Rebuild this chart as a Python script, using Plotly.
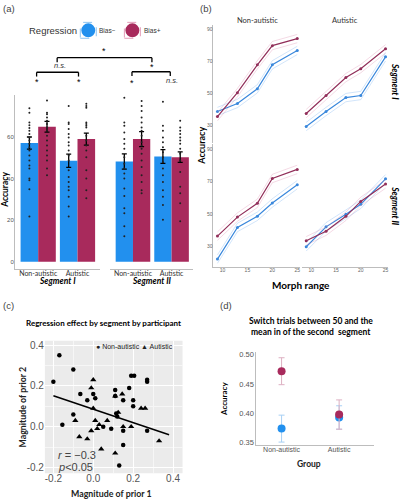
import plotly.graph_objects as go

W, H = 402, 500
def px(x): return x / W
def py(y): return 1 - y / H
def dom_x(a, b): return [px(a), px(b)]
def dom_y(top, bottom): return [py(bottom), py(top)]

BLUE = "#2290EE"
RED = "#A82A5C"
LBLUE = "#3A88DC"
LRED = "#922F5A"
AX = "#BDBDBD"
TXT = "#444444"
CAL = "Lato, Open Sans, sans-serif"
ARI = "Liberation Sans, Arial, sans-serif"

# ---------------- (a) bar data ----------------
groups = ["Non-autistic", "Autistic"]
seg1_bias_minus = [57.1, 48.6]
seg1_bias_plus = [64.9, 59.0]
seg2_bias_minus = [48.2, 50.6]
seg2_bias_plus = [59.0, 50.3]
seg1_err_minus = [2.9, 3.2]
seg1_err_plus = [2.6, 2.9]
seg2_err_minus = [3.7, 3.3]
seg2_err_plus = [3.6, 2.5]

dots_s1_na_minus = [73.8, 71.7, 67.0, 65.7, 64.3, 63.0, 61.4, 59.8, 58.3, 56.7, 55.1, 53.5, 51.1, 48.7, 46.3, 44.8, 40.0, 39.2, 34.9, 21.7]
dots_s1_na_plus = [77.6, 71.7, 71.0, 69.4, 67.8, 66.2, 64.6, 63.0, 60.6, 58.3, 55.9, 53.5, 51.1, 48.7, 44.8, 41.6]
dots_s1_au_minus = [74.9, 67.0, 66.2, 63.8, 61.4, 59.8, 57.5, 55.9, 53.5, 51.1, 48.7, 44.0, 40.8, 38.4, 36.0, 34.4, 31.3, 26.5, 21.7]
dots_s1_au_plus = [76.0, 74.9, 74.1, 67.0, 66.2, 65.4, 64.6, 60.6, 58.3, 55.9, 53.5, 50.3, 44.0, 40.0, 34.4, 30.5]
dots_s2_na_minus = [78.9, 67.0, 65.4, 62.2, 59.0, 56.7, 54.3, 50.3, 47.1, 44.8, 42.4, 40.0, 35.2, 31.6, 25.7, 23.3, 17.0, 12.2]
dots_s2_na_plus = [77.3, 74.9, 72.5, 69.4, 67.0, 64.6, 63.0, 60.6, 57.5, 55.9, 54.3, 51.9, 48.7, 45.6, 41.6, 38.4, 34.4, 32.9]
dots_s2_au_minus = [77.0, 65.4, 63.0, 59.8, 57.5, 55.1, 52.7, 50.3, 47.9, 44.8, 41.6, 38.4, 34.4, 31.3, 27.3, 20.2]
dots_s2_au_plus = [67.8, 64.6, 63.0, 61.4, 59.8, 58.3, 56.7, 54.3, 51.9, 48.7, 43.2, 36.0, 32.9, 28.1, 19.4]

# ---------------- (b) line data ----------------
morph = [9, 13, 17, 20, 25]
b_s1_na_minus = [38.8, 43.8, 53.0, 68.0, 77.0]
b_s1_na_plus = [35.6, 50.6, 68.0, 80.0, 84.4]
b_s1_au_minus = [29.4, 38.8, 47.5, 48.8, 73.0]
b_s1_au_plus = [37.5, 48.8, 60.0, 65.6, 78.0]
b_s2_na_minus = [22.1, 41.6, 48.5, 56.7, 68.0]
b_s2_na_plus = [36.3, 48.0, 56.5, 71.8, 77.4]
b_s2_au_minus = [29.7, 42.0, 49.8, 55.9, 71.6]
b_s2_au_plus = [33.4, 39.3, 48.5, 57.7, 68.4]
b_se = [2.6, 2.6, 2.6, 2.6, 2.6]

# ---------------- (c) scatter data ----------------
na_x = [-0.17, -0.20, -0.10, -0.065, -0.03, 0.00, 0.01, -0.10, -0.155, 0.05, 0.09, 0.115, 0.11, 0.11, 0.18, 0.19, 0.205, 0.20, 0.20, 0.15, 0.27, 0.27, 0.27, 0.15, 0.15, 0.13, 0.12]
na_y = [0.35, 0.22, 0.28, 0.16, 0.13, 0.16, 0.14, 0.06, 0.01, 0.00, -0.01, 0.065, 0.18, 0.15, 0.19, 0.25, 0.25, 0.13, 0.10, 0.13, 0.23, 0.22, -0.02, -0.02, -0.09, -0.19, 0.05]
au_x = [0.00, -0.01, 0.00, -0.09, -0.07, -0.03, -0.01, 0.01, 0.02, 0.03, 0.07, 0.04, 0.11, 0.125, 0.145, 0.15, 0.19, 0.24, 0.26, 0.11, 0.33]
au_y = [0.23, 0.19, 0.09, 0.03, -0.05, -0.06, -0.02, 0.03, -0.01, 0.01, 0.03, -0.11, 0.15, 0.07, 0.16, 0.00, 0.00, 0.09, 0.09, -0.13, -0.07]
fit_x = [-0.2, 0.38]
fit_intercept = 0.086
fit_slope = -0.33

# ---------------- (d) point data ----------------
d_groups = ["Non-autistic", "Autistic"]
d_bias_minus = [0.374, 0.393]
d_bias_plus = [0.472, 0.398]
d_err_minus = [0.023, 0.020]
d_err_plus = [0.023, 0.025]

fig = go.Figure()

# ---------- (a) ----------
off, bw = 0.224, 0.448
seg_data = [
    ("x", "y", seg1_bias_minus, seg1_bias_plus, seg1_err_minus, seg1_err_plus,
     [dots_s1_na_minus, dots_s1_au_minus], [dots_s1_na_plus, dots_s1_au_plus]),
    ("x2", "y2", seg2_bias_minus, seg2_bias_plus, seg2_err_minus, seg2_err_plus,
     [dots_s2_na_minus, dots_s2_au_minus], [dots_s2_na_plus, dots_s2_au_plus]),
]
for xa, ya, vm, vp, em, ep, dm, dp in seg_data:
    for vals, errs, dots, sgn, col in [(vm, em, dm, -1, BLUE), (vp, ep, dp, 1, RED)]:
        xs = [i + sgn * off for i in range(len(groups))]
        fig.add_trace(go.Bar(x=xs, y=vals, width=bw, marker=dict(color=col, line=dict(width=0)),
                             error_y=dict(type="data", array=errs, color="black", thickness=1.3, width=2.5),
                             xaxis=xa, yaxis=ya, showlegend=False))
        for i, d in enumerate(dots):
            fig.add_trace(go.Scatter(x=[xs[i]] * len(d), y=d, mode="markers",
                                     marker=dict(color="#222", size=2), xaxis=xa, yaxis=ya,
                                     showlegend=False, hoverinfo="skip"))

# ---------- (b) ----------
panels_b = [
    ("x3", "y3", b_s1_na_minus, b_s1_na_plus),
    ("x4", "y4", b_s1_au_minus, b_s1_au_plus),
    ("x5", "y5", b_s2_na_minus, b_s2_na_plus),
    ("x6", "y6", b_s2_au_minus, b_s2_au_plus),
]
for xa, ya, vm, vp in panels_b:
    for vals, col, bcol in [(vm, LBLUE, "rgba(90,160,235,0.35)"), (vp, LRED, "rgba(215,120,160,0.35)")]:
        for sgn in (-1, 1):
            fig.add_trace(go.Scatter(x=morph, y=[v + sgn * s for v, s in zip(vals, b_se)], mode="lines",
                                     line=dict(color=bcol, width=0.8), xaxis=xa, yaxis=ya,
                                     showlegend=False, hoverinfo="skip"))
        fig.add_trace(go.Scatter(x=morph, y=vals, mode="lines+markers",
                                 line=dict(color=col, width=1.2), marker=dict(color=col, size=3),
                                 xaxis=xa, yaxis=ya, showlegend=False))

# ---------- (c) ----------
fig.add_trace(go.Scatter(x=na_x, y=na_y, mode="markers", marker=dict(symbol="circle", color="black", size=4.5),
                         xaxis="x7", yaxis="y7", showlegend=False))
fig.add_trace(go.Scatter(x=au_x, y=au_y, mode="markers", marker=dict(symbol="triangle-up", color="black", size=5.5),
                         xaxis="x7", yaxis="y7", showlegend=False))
fig.add_trace(go.Scatter(x=fit_x, y=[fit_intercept + fit_slope * v for v in fit_x], mode="lines",
                         line=dict(color="black", width=1.5), xaxis="x7", yaxis="y7", showlegend=False))

# ---------- (d) ----------
for vals, errs, col, ecol in [(d_bias_minus, d_err_minus, BLUE, "#A8D0F4"), (d_bias_plus, d_err_plus, RED, "#DDB0C2")]:
    fig.add_trace(go.Scatter(x=list(range(len(d_groups))), y=vals, mode="markers",
                             marker=dict(color=col, size=8),
                             error_y=dict(type="data", array=errs, color=ecol, thickness=1, width=3),
                             xaxis="x8", yaxis="y8", showlegend=False))

hidden = dict(showgrid=False, zeroline=False, showticklabels=False, showline=False, ticks="")
lay = dict(
    width=W, height=H, margin=dict(l=0, r=0, t=0, b=0),
    paper_bgcolor="white", plot_bgcolor="rgba(0,0,0,0)",
    font=dict(family=ARI, color=TXT),
    barmode="overlay",
    # (a)
    xaxis=dict(domain=dom_x(15, 100), range=[-0.591, 1.566], tickvals=[0, 1], ticktext=groups,
               showline=True, linecolor=AX, linewidth=1, showgrid=False, zeroline=False,
               tickfont=dict(size=7, family=CAL, color="#333"), ticks="", ticklabelstandoff=-3),
    yaxis=dict(domain=dom_y(95, 270), range=[-3.7, 80], tickvals=[0, 20, 40, 60],
               showline=True, linecolor=AX, linewidth=1, showgrid=False, zeroline=False,
               tickfont=dict(size=6, color="#555"), ticks="", ticklabelstandoff=-1),
    xaxis2=dict(domain=dom_x(110, 193), range=[-0.602, 1.543], tickvals=[0, 1], ticktext=groups,
                showline=True, linecolor=AX, linewidth=1, showgrid=False, zeroline=False,
                tickfont=dict(size=7, family=CAL, color="#333"), ticks="", ticklabelstandoff=-3),
    yaxis2=dict(domain=dom_y(95, 270), range=[-3.7, 80], anchor="x2", **hidden),
)
# (b) axes
b_x = dict(range=[8.2, 25.5], tickvals=[10, 15, 20, 25], showgrid=False, zeroline=False,
           tickfont=dict(size=5, color="#666"), ticks="", ticklabelstandoff=-2)
lay["xaxis3"] = dict(domain=dom_x(214, 300.5), anchor="y3", showline=False, showticklabels=False, **b_x)
lay["xaxis4"] = dict(domain=dom_x(303, 389), anchor="y4", showline=False, showticklabels=False, **b_x)
lay["xaxis5"] = dict(domain=dom_x(214, 300.5), anchor="y5", showline=True, linecolor=AX, **b_x)
lay["xaxis6"] = dict(domain=dom_x(303, 389), anchor="y6", showline=True, linecolor=AX, **b_x)
b_y = dict(tickvals=[30, 50, 70, 90], showgrid=False, zeroline=False, tickfont=dict(size=5, color="#666"),
           ticks="", ticklabelstandoff=-1)
lay["yaxis3"] = dict(domain=dom_y(24, 143), range=[19, 93], anchor="x3", showline=True, linecolor=AX, **b_y)
lay["yaxis4"] = dict(domain=dom_y(24, 143), range=[19, 93], anchor="x4", **hidden)
lay["yaxis5"] = dict(domain=dom_y(144, 268), range=[17, 93], anchor="x5", showline=True, linecolor=AX, **b_y)
lay["yaxis6"] = dict(domain=dom_y(144, 268), range=[17, 93], anchor="x6", **hidden)
# (c)
lay["xaxis7"] = dict(domain=dom_x(45, 183), range=[-0.2425, 0.4475], anchor="y7",
                     tickvals=[-0.2, 0.0, 0.2, 0.4], ticktext=["-0.2", "0.0", "0.2", "0.4"],
                     showgrid=True, gridcolor="white", gridwidth=1, zeroline=False, showline=False,
                     minor=dict(dtick=0.1, showgrid=True, gridcolor="#F6F6F6", gridwidth=0.5),
                     tickfont=dict(size=10, color="#555"), ticks="", ticklabelstandoff=-2)
lay["yaxis7"] = dict(domain=dom_y(341.7, 475), range=[-0.228, 0.422], anchor="x7",
                     tickvals=[-0.2, 0.0, 0.2, 0.4], ticktext=["-0.2", "0.0", "0.2", "0.4"],
                     showgrid=True, gridcolor="white", gridwidth=1, zeroline=False, showline=False,
                     minor=dict(dtick=0.1, showgrid=True, gridcolor="#F6F6F6", gridwidth=0.5),
                     tickfont=dict(size=10, color="#555"), ticks="")
# (d)
lay["xaxis8"] = dict(domain=dom_x(257, 375), range=[-0.438, 1.607], anchor="y8", tickvals=[0, 1],
                     ticktext=d_groups, showline=True, linecolor=AX, showgrid=False, zeroline=False,
                     tickfont=dict(size=7, color="#555"), ticks="", ticklabelstandoff=-2)
lay["yaxis8"] = dict(domain=dom_y(353, 446.7), range=[0.346, 0.505], anchor="x8",
                     tickvals=[0.35, 0.40, 0.45, 0.50], ticktext=["0.35", "0.40", "0.45", "0.50"],
                     showline=True, linecolor=AX, showgrid=False, zeroline=False,
                     tickfont=dict(size=7.5, color="#555"), ticks="")
fig.update_layout(**lay)

shapes = []
# panel (c) background
shapes.append(dict(type="rect", xref="x7 domain", yref="y7 domain", x0=0, x1=1, y0=0, y1=1,
                   fillcolor="#EBEBEB", line=dict(width=0), layer="below"))
# significance brackets in (a)
def seg(x0, y0, x1, y1):
    shapes.append(dict(type="line", xref="paper", yref="paper", x0=px(x0), y0=py(y0), x1=px(x1), y1=py(y1),
                       line=dict(color="black", width=1.3)))
for (xa, xb, yb, yt) in [(57.3, 152.3, 57, 61.5), (36.7, 78.7, 71.7, 76), (132.3, 170.7, 71.2, 75.5)]:
    seg(xa, yb, xb, yb)
    seg(xa, yb, xa, yt)
    seg(xb, yb, xb, yt)
# legend markers (a)
for cx, fc, bc in [(88.5, BLUE, "#8CC4F2"), (132.7, RED, "#E39CB8")]:
    shapes.append(dict(type="rect", xref="paper", yref="paper", x0=px(cx - 8), x1=px(cx + 8),
                       y0=py(37.5), y1=py(21.5), line=dict(color=bc, width=1, dash="dash")))
    shapes.append(dict(type="circle", xref="paper", yref="paper", x0=px(cx - 7), x1=px(cx + 7),
                       y0=py(36.5), y1=py(22.5), fillcolor=fc, line=dict(width=0)))
fig.update_layout(shapes=shapes)

ann = []
def t(x, y, text, size, family=ARI, color=TXT, angle=0, xanchor="center"):
    ann.append(dict(x=px(x), y=py(y), xref="paper", yref="paper", text=text, showarrow=False,
                    font=dict(size=size, family=family, color=color), textangle=angle,
                    xanchor=xanchor, yanchor="middle", borderpad=0))
t(9, 8, "(a)", 9.5)
t(207, 8, "(b)", 9.5)
t(9, 306, "(c)", 9.5)
t(227, 306, "(d)", 9.5)
t(53.3, 29.3, "Regression", 9.5, color="#333")
t(108, 29.5, "Bias−", 6.5, color="#333")
t(152.7, 29.5, "Bias+", 6.5, color="#333")
# stars / n.s.
t(104.5, 50.5, "*", 9, color="black")
t(60, 65, "<i>n.s.</i>", 7.5, color="#333")
t(152, 66, "*", 9, color="black")
t(37.3, 81.5, "*", 9, color="black")
t(78.7, 81.5, "*", 9, color="black")
t(132.3, 82, "*", 9, color="black")
t(172, 80.3, "<i>n.s.</i>", 7.5, color="#333")
t(57.5, 282, "<b><i>Segment I</i></b>", 8.5, family=CAL, color="black")
t(152, 282, "<b><i>Segment II</i></b>", 8.5, family=CAL, color="black")
t(5, 190, "<b>Accuracy</b>", 8.5, family=CAL, color="black", angle=-90)
# (b)
t(258, 20, "Non-autistic", 7.5, family=CAL, color="#333")
t(346, 20, "Autistic", 7.5, family=CAL, color="#333")
t(396.5, 81, "<b><i>Segment I</i></b>", 8.5, family=CAL, color="black", angle=90)
t(396.5, 206, "<b><i>Segment II</i></b>", 8.5, family=CAL, color="black", angle=90)
t(202, 145, "<b>Accuracy</b>", 9, family=CAL, color="black", angle=-90)
t(302, 285.5, "<b>Morph range</b>", 10, family=CAL, color="black")
# (c)
t(103.5, 323.5, "<b>Regression effect by segment by participant</b>", 8, family=CAL, color="black")
t(135, 347.8, "● Non-autistic ▲ Autistic", 7, color="#222")
t(57, 456.5, "<i>r</i> = −0.3", 11, color="#444", xanchor="left")
t(57, 468.5, "<i>p</i><0.05", 11, color="#444", xanchor="left")
t(112, 495.5, "<b>Magnitude of prior 1</b>", 8.8, family=CAL, color="#222")
t(23, 408, "<b>Magnitude of prior 2</b>", 8.8, family=CAL, color="#222", angle=-90)
# (d)
t(312, 321.7, "<b>Switch trials between 50 and the</b>", 8.5, family=CAL, color="black")
t(312, 332.5, "<b>mean in of the second  segment</b>", 8.5, family=CAL, color="black")
t(310, 465.7, "<b>Group</b>", 8.5, family=CAL, color="#222")
t(224, 400, "<b>Accuracy</b>", 8, family=CAL, color="black", angle=-90)
fig.update_layout(annotations=ann)

fig.write_html("out.html", config={"displayModeBar": False},
               post_script="document.body.style.margin='0';")
